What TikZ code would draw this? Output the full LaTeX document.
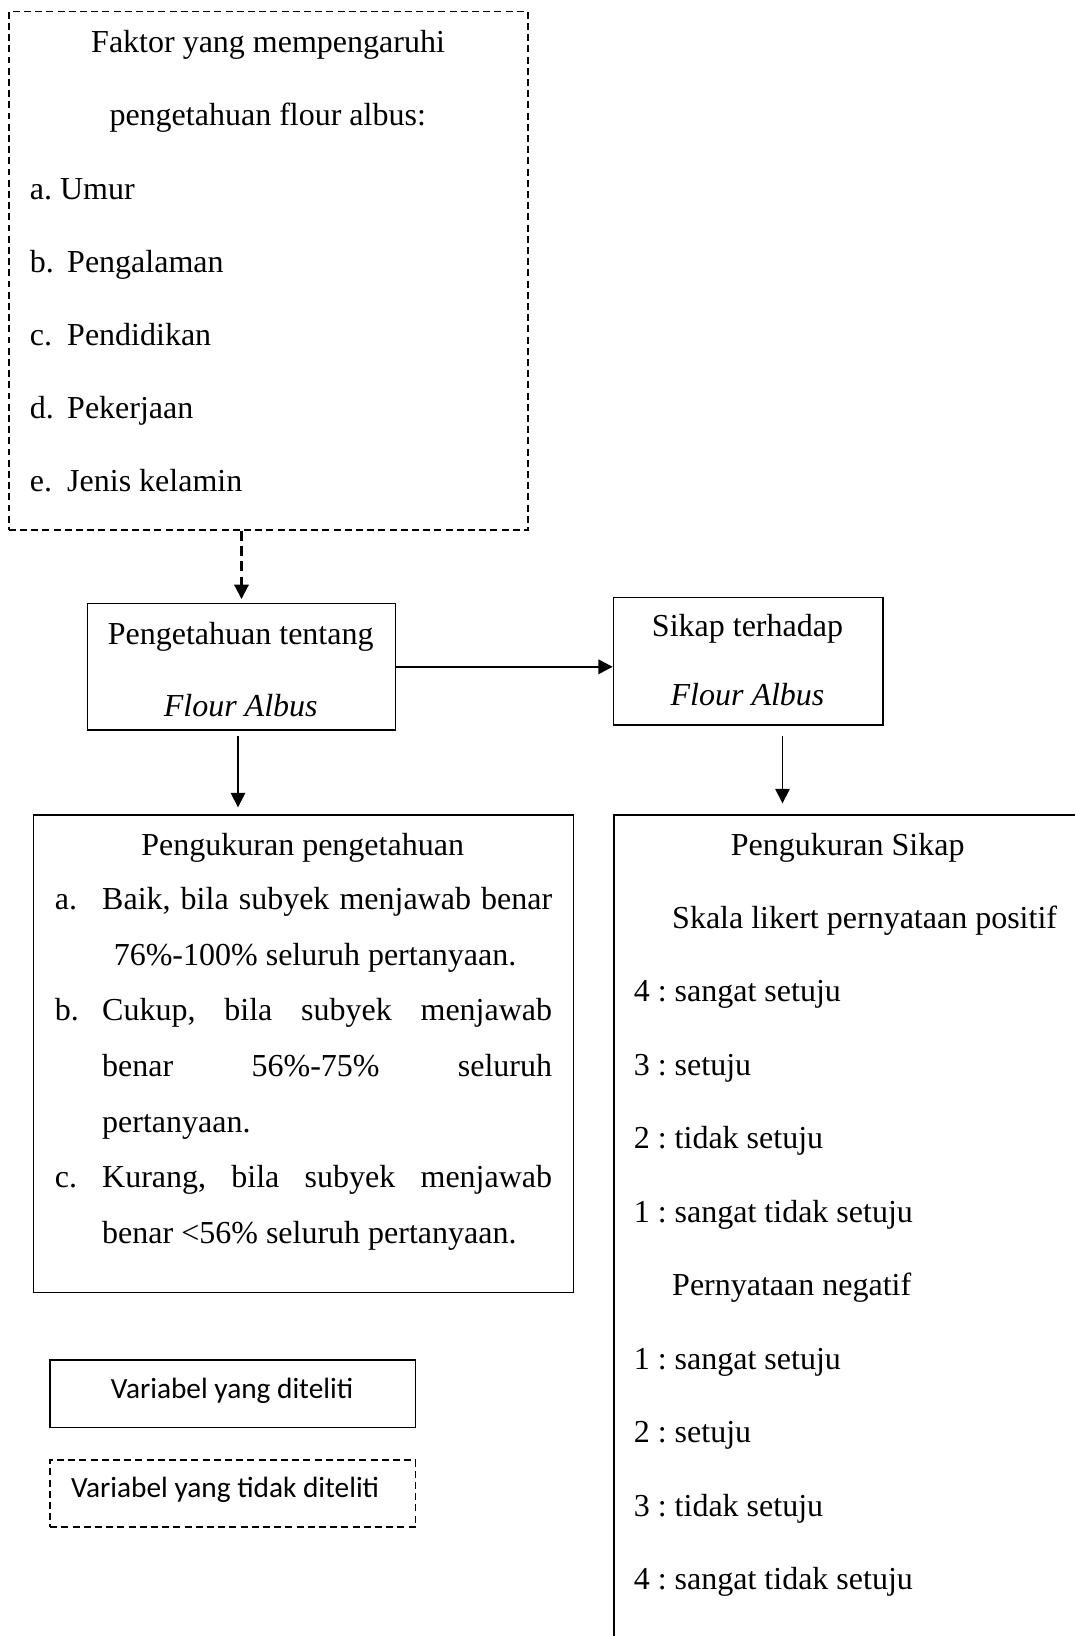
\documentclass[tikz,border=0pt]{standalone}
\usepackage{fontspec}
\setmainfont{Liberation Serif}
\newfontfamily\legendfont{Carlito}
\usepackage{tikz}
\usetikzlibrary{arrows.meta,positioning}
\frenchspacing
\newlength{\pxu}
\setlength{\pxu}{0.375pt}
\tikzstyle{arrow} = [line width=0.6pt,-{Triangle[length=5.4pt,width=5.4pt]}]
\tikzstyle{boxframe} = [draw, line width=0.6pt, rectangle, inner sep=0pt, anchor=north west]
\tikzstyle{dashframe} = [boxframe, dash pattern=on 2.6pt off 1.6pt]
\tikzstyle{txt} = [inner sep=0pt, anchor=base west, font=\fontsize{12pt}{14pt}\selectfont]
\tikzstyle{legendtxt} = [inner sep=0pt, anchor=base west, font=\legendfont\fontsize{11pt}{13pt}\selectfont]

\begin{document}
\begin{tikzpicture}[x=\pxu, y=-\pxu]
    \useasboundingbox (0,0) rectangle (1075,1636);
    \clip (0,0) rectangle (1075,1636);
    % faktor (tidak diteliti)
    \node[dashframe, minimum width=519\pxu, minimum height=518.6\pxu] (faktor) at (8,10.7) {};
    \node[txt] (faktorT1) at (90.7,52.3) {Faktor yang mempengaruhi};
    \node[txt] (faktorT2) at (109,125) {pengetahuan flour albus:};
    \node[txt] (faktorA) at (29.3,199) {a. Umur};
    \foreach \lbl/\itm [count=\i] in {b/Pengalaman, c/Pendidikan, d/Pekerjaan, e/Jenis kelamin} {
        \node[txt] (faktorL\i) at (29.3,{199+\i*73.2}) {\lbl.};
        \node[txt] (faktorI\i) at (66.7,{199+\i*73.2}) {\itm};
    }
    % variabel yang diteliti
    \node[boxframe, minimum width=308\pxu, minimum height=126.6\pxu] (pengetahuan) at (86.7,602.7) {};
    \node[txt, anchor=base] (pengetahuanT1) at (240.7,644) {Pengetahuan tentang};
    \node[txt, anchor=base] (pengetahuanT2) at (240.7,716.7) {\textit{Flour Albus}};
    \node[boxframe, minimum width=269.6\pxu, minimum height=127.6\pxu] (sikap) at (612.7,596.7) {};
    \node[txt, anchor=base] (sikapT1) at (747.5,636.7) {Sikap terhadap};
    \node[txt, anchor=base] (sikapT2) at (747.5,705) {\textit{Flour Albus}};
    % pengukuran pengetahuan
    \node[boxframe, minimum width=540\pxu, minimum height=477.7\pxu] (ukurtahu) at (32.7,814) {};
    \node[txt, anchor=base] (ukurtahuT) at (302.7,855) {Pengukuran pengetahuan};
    \node[txt] (ukurA) at (54.3,909.3) {a.};
    \node[txt] (ukurA1) at (101.7,909.3) {\makebox[449.9\pxu][s]{Baik, bila subyek menjawab benar}};
    \node[txt] (ukurA2) at (113.3,965) {76\%-100\% seluruh pertanyaan.};
    \node[txt] (ukurB) at (54.3,1020.7) {b.};
    \node[txt] (ukurB1) at (101.7,1020.7) {\makebox[449.9\pxu][s]{Cukup, bila subyek menjawab}};
    \node[txt] (ukurB2) at (101.7,1076.4) {\makebox[449.9\pxu][s]{benar 56\%-75\% seluruh}};
    \node[txt] (ukurB3) at (101.7,1132) {pertanyaan.};
    \node[txt] (ukurC) at (54.3,1187.8) {c.};
    \node[txt] (ukurC1) at (101.7,1187.8) {\makebox[449.9\pxu][s]{Kurang, bila subyek menjawab}};
    \node[txt] (ukurC2) at (101.7,1243.5) {benar <56\% seluruh pertanyaan.};
    % pengukuran sikap
    \node[boxframe, minimum width=520\pxu, minimum height=900\pxu] (ukursikap) at (613,814) {};
    \node[txt, anchor=base] (ukursikapT) at (847.7,855) {Pengukuran Sikap};
    \node[txt] (positif) at (671.7,928.3) {Skala likert pernyataan positif};
    \foreach \skor [count=\i from 0] in {4 : sangat setuju, 3 : setuju, 2 : tidak setuju, 1 : sangat tidak setuju} {
        \node[txt] (positif\i) at (633.3,{1001.7+\i*73.5}) {\skor};
    }
    \node[txt] (negatif) at (671.7,1295.7) {Pernyataan negatif};
    \foreach \skor [count=\i from 0] in {1 : sangat setuju, 2 : setuju, 3 : tidak setuju, 4 : sangat tidak setuju} {
        \node[txt] (negatif\i) at (633.3,{1369.2+\i*73.5}) {\skor};
    }
    % keterangan
    \node[boxframe, minimum width=365.4\pxu, minimum height=67.7\pxu] (diteliti) at (49.4,1359) {};
    \node[legendtxt, anchor=base] (ditelitiT) at (232.1,1398) {Variabel yang diteliti};
    \node[dashframe, minimum width=365.4\pxu, minimum height=67\pxu] (tidakditeliti) at (49.4,1459) {};
    \node[legendtxt] (tidakditelitiT) at (70.6,1497.3) {Variabel yang tidak diteliti};
    % panah
    \draw[arrow, line width=0.8pt, dash pattern=on 3.8pt off 1.9pt, shorten >=3.7\pxu] (faktor.south -| pengetahuan.north) -- (pengetahuan.north);
    \draw[arrow, line width=0.9pt] (pengetahuan.east) -- (pengetahuan.east -| sikap.west);
    \coordinate (tahuOut) at ([xshift=-3.5\pxu]pengetahuan.south);
    \draw[arrow, shorten <=4.7\pxu, shorten >=6.7\pxu] (tahuOut) -- (tahuOut |- ukurtahu.north);
    \coordinate (sikapOut) at ([xshift=34.2\pxu]sikap.south);
    \draw[arrow, shorten <=9.7\pxu, shorten >=10.7\pxu] (sikapOut) -- (sikapOut |- ukursikap.north);
\end{tikzpicture}
\end{document}
